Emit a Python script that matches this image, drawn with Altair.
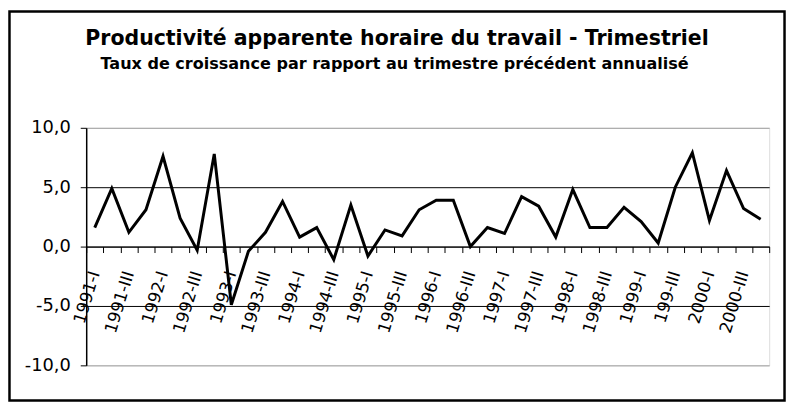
import altair as alt
import pandas as pd

# Quarterly annualised growth rate (%), 1991-I .. 2000-IV
values = [1.6, 4.9, 1.2, 3.1, 7.6, 2.4, -0.3, 7.8, -4.9, -0.4,
          1.2, 3.8, 0.8, 1.6, -1.1, 3.5, -0.8, 1.4, 0.9, 3.1,
          3.9, 3.9, 0.0, 1.6, 1.1, 4.2, 3.4, 0.8, 4.8, 1.6,
          1.6, 3.3, 2.1, 0.3, 5.0, 7.9, 2.2, 6.4, 3.2, 2.3]
years = list(range(1991, 2001))
roman = ["I", "II", "III", "IV"]
quarters = [f"{y}-{q}" for y in years for q in roman]
tick_labels = ["1991-I", "1991-III", "1992-I", "1992-III", "1993-I", "1993-III",
               "1994-I", "1994-III", "1995-I", "1995-III", "1996-I", "1996-III",
               "1997-I", "1997-III", "1998-I", "1998-III", "1999-I", "199-III",
               "2000-I", "2000-III"]
y_ticks = [-10, -5, 0, 5, 10]
title_text = "Productivité apparente horaire du travail - Trimestriel"
subtitle_text = "Taux de croissance par rapport au trimestre précédent annualisé"

df = pd.DataFrame({"quarter": quarters, "value": values,
                   "pos": [i + 0.5 for i in range(len(values))]})

n = len(values)
axis_vals = [k / 2 for k in range(2 * n + 1)]
lab_arr = "[" + ",".join("'" + t + "'" for t in tick_labels) + "]"
x_label_expr = f"(datum.value % 2 == 0.5) ? {lab_arr}[floor(datum.value / 2)] : ''"
y_label_expr = "(datum.value < 0 ? '-' : '') + replace(format(abs(datum.value), '.1f'), '.', ',')"

x_axis = alt.Axis(
    values=axis_vals, labelExpr=x_label_expr, title=None, grid=False,
    offset=-120, orient="bottom", domainColor="black", domainWidth=1,
    tickColor="black", tickSize=6, tickWidth=1,
    tickOpacity={"condition": {"test": "datum.value % 1 == 0", "value": 1}, "value": 0},
    labelAngle=-73, labelAlign="right", labelBaseline="middle", labelPadding=19,
    labelFont="DejaVu Sans", labelFontSize=17, labelColor="black",
    labelOverlap=False, labelFlush=False,
)
y_axis = alt.Axis(
    values=y_ticks, labelExpr=y_label_expr, title=None, grid=True,
    gridColor={"condition": {"test": "abs(datum.value) == 10", "value": "#a0a0a0"}, "value": "black"},
    gridWidth=1, domainColor="black", domainWidth=1.5, tickColor="black", tickSize=6,
    labelFont="DejaVu Sans", labelFontSize=18, labelColor="black", labelPadding=10,
)

line = alt.Chart(df).mark_line(color="black", strokeWidth=3).encode(
    x=alt.X("pos:Q", scale=alt.Scale(domain=[0, n], nice=False, zero=False), axis=x_axis),
    y=alt.Y("value:Q", scale=alt.Scale(domain=[-10, 10], nice=False), axis=y_axis),
    tooltip=["quarter", "value"],
)

one = pd.DataFrame({"a": [0]})
frame = alt.Chart(one).mark_rect(
    fill="transparent", stroke="black", strokeWidth=2.5
).encode(x=alt.value(-77.5), x2=alt.value(705.5), y=alt.value(-117.5), y2=alt.value(275.5))

title = alt.Chart(one).mark_text(
    text=title_text, font="DejaVu Sans", fontSize=20.7, fontWeight="bold",
    color="black", align="center", baseline="alphabetic"
).encode(x=alt.value(314), y=alt.value(-84))

subtitle = alt.Chart(one).mark_text(
    text=subtitle_text, font="DejaVu Sans", fontSize=16.2, fontWeight="bold",
    color="black", align="center", baseline="alphabetic"
).encode(x=alt.value(311.5), y=alt.value(-59))

chart = alt.layer(line, frame, title, subtitle).properties(
    width=690, height=240,
    autosize=alt.AutoSizeParams(type="none"),
    padding={"left": 79, "top": 119, "right": 18, "bottom": 37},
).configure_view(stroke="#a0a0a0", strokeWidth=1.5).configure(background="white")

chart.save("out.html", embed_options={"renderer": "svg", "actions": False})
